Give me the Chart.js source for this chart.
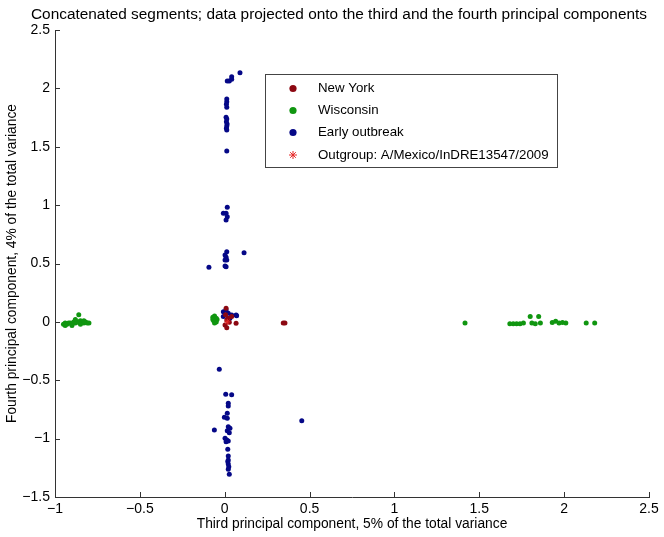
<!DOCTYPE html>
<html>
<head>
<meta charset="utf-8">
<title>PCA projection</title>
<script src="https://cdn.jsdelivr.net/npm/chart.js@4.4.1/dist/chart.umd.min.js"></script>
<style>
    html, body { margin: 0; padding: 0; background: #fff; }
    #wrap { width: 664px; height: 537px; }
</style>
</head>
<body>
<div id="wrap"><canvas id="pcaChart" width="664" height="537"></canvas></div>
<script>
// Tick labels
const xTicks = [-1, -0.5, 0, 0.5, 1, 1.5, 2, 2.5];
const yTicks = [-1.5, -1, -0.5, 0, 0.5, 1, 1.5, 2, 2.5];

// New York
const nyX = [0.008, 0.012, 0.027, 0.002, 0.012, 0.067, 0.041, 0.020, 0.005, 0.345, 0.355];
const nyY = [0.116, 0.016, -0.003, -0.027, -0.050, -0.012, 0.045, 0.030, 0.060, -0.010, -0.010];

// Wisconsin
const wiX = [-0.95, -0.94, -0.93, -0.92, -0.91, -0.90, -0.89, -0.88, -0.87, -0.86, -0.86, -0.85, -0.84, -0.83, -0.82, -0.81, -0.80, -0.94, -0.90, -0.88, -0.85, -0.83,
             -0.07, -0.06, -0.05, -0.065, -0.05, -0.06, -0.045, -0.07,
             1.416, 1.68, 1.70, 1.72, 1.74, 1.76, 1.80, 1.85, 1.81, 1.83, 1.86, 1.93, 1.95, 1.97, 1.99, 2.01, 2.13, 2.18];
const wiY = [-0.02, -0.01, -0.02, -0.01, -0.01, -0.02, 0.00, -0.01, 0.00, 0.00, 0.06, 0.01, 0.00, -0.01, 0.00, -0.01, -0.01, -0.03, -0.03, 0.02, -0.02, 0.01,
             0.04, 0.05, 0.03, 0.01, 0.00, -0.01, 0.02, 0.02,
             -0.01, -0.015, -0.015, -0.015, -0.015, -0.01, 0.045, 0.045, -0.01, -0.015, -0.01, -0.005, 0.005, -0.01, -0.005, -0.01, -0.01, -0.01];

// Early outbreak
const eoX = [0.090, 0.041, 0.041, 0.027, 0.015,
             0.012, 0.012, 0.010, 0.012,
             0.008, 0.012, 0.010, 0.014, 0.012, 0.010, 0.012,
             0.012,
             0.015, -0.008, 0.008, 0.015, 0.008,
             0.012, 0.002, 0.008, 0.002, 0.012, 0.002, 0.008, 0.114, -0.093,
             -0.008, 0.008, 0.021, 0.041, 0.067, -0.008, 0.031, 0.070,
             -0.032, 0.006, 0.041, 0.021, 0.021, 0.015, -0.002, 0.015, 0.454, -0.061, 0.021, 0.031, 0.015, 0.027,
             0.002, 0.012, 0.021, 0.008, 0.018, 0.021, 0.021, 0.018, 0.021, 0.024, 0.021, 0.027];
const eoY = [2.134, 2.100, 2.078, 2.063, 2.063,
             1.909, 1.886, 1.864, 1.838,
             1.752, 1.738, 1.715, 1.695, 1.678, 1.658, 1.644,
             1.464,
             0.982, 0.930, 0.930, 0.900, 0.873,
             0.601, 0.573, 0.553, 0.530, 0.530, 0.479, 0.473, 0.593, 0.468,
             0.087, 0.102, 0.074, 0.059, 0.059, 0.045, 0.031, 0.053,
             -0.406, -0.620, -0.624, -0.697, -0.720, -0.783, -0.817, -0.826, -0.846, -0.926, -0.898, -0.911, -0.932, -0.949,
             -0.997, -1.012, -1.020, -1.026, -1.091, -1.149, -1.183, -1.197, -1.217, -1.240, -1.263, -1.305];

// Outgroup
const ogX = [0.015];
const ogY = [0.000];

const FONT = "'Liberation Sans', Arial, Helvetica, sans-serif";

function toPoints(xs, ys) {
    return xs.map((x, i) => ({ x: x, y: ys[i] }));
}

function minusSign(value) {
    return String(value).replace('-', '\u2212');
}

// Title, inward ticks and the boxed legend
const decorPlugin = {
    id: 'decor',
    afterDraw(chart) {
        const ctx = chart.ctx;
        const area = chart.chartArea;
        const xs = chart.scales.x;
        const ys = chart.scales.y;

        ctx.save();
        ctx.strokeStyle = '#333';
        ctx.lineWidth = 1;
        ctx.beginPath();
        xTicks.forEach(v => {
            const px = Math.round(xs.getPixelForValue(v)) + 0.5;
            ctx.moveTo(px, area.bottom);
            ctx.lineTo(px, area.bottom - 5);
        });
        yTicks.forEach(v => {
            const py = Math.round(ys.getPixelForValue(v)) + 0.5;
            ctx.moveTo(area.left, py);
            ctx.lineTo(area.left + 5, py);
        });
        ctx.stroke();

        // title
        ctx.fillStyle = '#000';
        ctx.font = '15.4px ' + FONT;
        ctx.textAlign = 'center';
        ctx.textBaseline = 'middle';
        ctx.fillText('Concatenated segments; data projected onto the third and the fourth principal components', 339, 15);

        // legend
        const lx = 265.5, ly = 74.5, lw = 292, lh = 93;
        ctx.fillStyle = '#fff';
        ctx.fillRect(lx, ly, lw, lh);
        ctx.strokeStyle = '#444';
        ctx.strokeRect(lx, ly, lw, lh);

        const rows = [88.5, 110.5, 132.5, 155];
        chart.data.datasets.forEach((ds, i) => {
            const cy = rows[i];
            if (ds.pointStyle === 'star') {
                ctx.strokeStyle = ds.borderColor;
                ctx.lineWidth = 1;
                const r = 4;
                ctx.beginPath();
                ctx.moveTo(293 - r, cy); ctx.lineTo(293 + r, cy);
                ctx.moveTo(293, cy - r); ctx.lineTo(293, cy + r);
                ctx.moveTo(293 - r * 0.7, cy - r * 0.7); ctx.lineTo(293 + r * 0.7, cy + r * 0.7);
                ctx.moveTo(293 - r * 0.7, cy + r * 0.7); ctx.lineTo(293 + r * 0.7, cy - r * 0.7);
                ctx.stroke();
            } else {
                ctx.fillStyle = ds.backgroundColor;
                ctx.beginPath();
                ctx.arc(293, cy, 3.6, 0, Math.PI * 2);
                ctx.fill();
            }
            ctx.fillStyle = '#000';
            ctx.textAlign = 'left';
            ctx.font = '13.3px ' + FONT;
            ctx.fillText(ds.label, 318, cy);
        });
        ctx.restore();
    }
};

const chart = new Chart(document.getElementById('pcaChart'), {
    type: 'scatter',
    data: {
        datasets: [
            {
                label: 'New York',
                data: toPoints(nyX, nyY),
                backgroundColor: 'rgb(140, 8, 18)',
                borderColor: 'rgb(140, 8, 18)',
                pointRadius: 2.5,
                borderWidth: 0,
                order: 1
            },
            {
                label: 'Wisconsin',
                data: toPoints(wiX, wiY),
                backgroundColor: 'rgb(16, 150, 16)',
                borderColor: 'rgb(16, 150, 16)',
                pointRadius: 2.5,
                borderWidth: 0,
                order: 3
            },
            {
                label: 'Early outbreak',
                data: toPoints(eoX, eoY),
                backgroundColor: 'rgb(5, 8, 135)',
                borderColor: 'rgb(5, 8, 135)',
                pointRadius: 2.5,
                borderWidth: 0,
                order: 2
            },
            {
                label: 'Outgroup: A/Mexico/InDRE13547/2009',
                data: toPoints(ogX, ogY),
                pointStyle: 'star',
                backgroundColor: 'rgb(230, 40, 40)',
                borderColor: 'rgb(230, 40, 40)',
                pointRadius: 3,
                borderWidth: 1,
                order: 0
            }
        ]
    },
    options: {
        responsive: false,
        animation: false,
        layout: { padding: { top: 30, right: 15, left: 0, bottom: 0 } },
        plugins: {
            legend: { display: false },
            tooltip: { enabled: false },
            title: { display: false }
        },
        scales: {
            x: {
                type: 'linear',
                min: -1,
                max: 2.5,
                afterBuildTicks: scale => { scale.ticks = xTicks.map(v => ({ value: v })); },
                afterFit: scale => { scale.height = 40; },
                grid: { display: false, drawTicks: false },
                border: { display: true, color: '#333', width: 1 },
                ticks: {
                    padding: 4,
                    color: '#000',
                    font: { family: FONT, size: 14 },
                    maxRotation: 0,
                    callback: value => minusSign(value)
                },
                title: {
                    display: true,
                    text: 'Third principal component, 5% of the total variance',
                    color: '#000',
                    font: { family: FONT, size: 13.8 },
                    padding: { top: 0, bottom: 5 }
                }
            },
            y: {
                type: 'linear',
                min: -1.5,
                max: 2.5,
                afterBuildTicks: scale => { scale.ticks = yTicks.map(v => ({ value: v })); },
                afterFit: scale => { scale.width = 55; },
                grid: { display: false, drawTicks: false },
                border: { display: true, color: '#333', width: 1 },
                ticks: {
                    padding: 5,
                    color: '#000',
                    font: { family: FONT, size: 14 },
                    callback: value => minusSign(value)
                },
                title: {
                    display: true,
                    text: 'Fourth principal component, 4% of the total variance',
                    color: '#000',
                    font: { family: FONT, size: 13.8 },
                    padding: { top: 4, bottom: 0 }
                }
            }
        }
    },
    plugins: [decorPlugin]
});
</script>
</body>
</html>
